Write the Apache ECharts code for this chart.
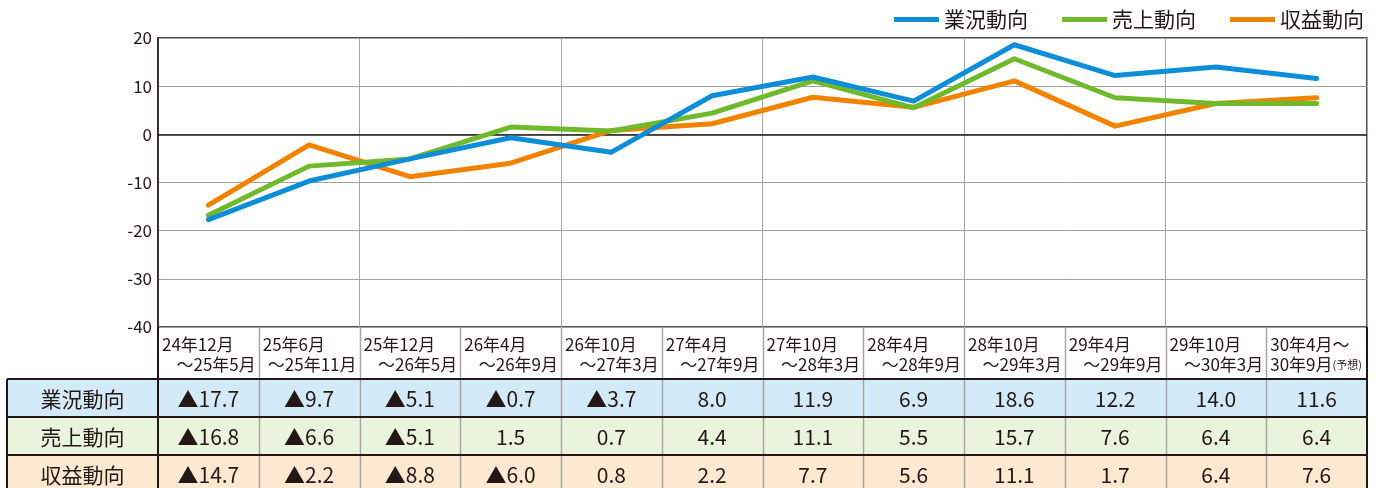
<!DOCTYPE html>
<html>
<head>
<meta charset="utf-8">
<script src="https://cdn.jsdelivr.net/npm/echarts@6/dist/echarts.min.js"></script>
<style>
* { margin: 0; padding: 0; }
body { background: #fff; }
#chart { width: 1381px; height: 488px; }
</style>
</head>
<body>
<div id="chart"></div>
<script>
// 期間（上段・下段）
const periodTop = ["24年12月", "25年6月", "25年12月", "26年4月", "26年10月", "27年4月", "27年10月", "28年4月", "28年10月", "29年4月", "29年10月", "30年4月～"];
const periodBottom = ["～25年5月", "～25年11月", "～26年5月", "～26年9月", "～27年3月", "～27年9月", "～28年3月", "～28年9月", "～29年3月", "～29年9月", "～30年3月", "30年9月(予想)"];
const categories = periodTop.map((t, i) => t + periodBottom[i]);

const seriesNames = ["業況動向", "売上動向", "収益動向"];
const gyoukyou = [-17.7, -9.7, -5.1, -0.7, -3.7, 8.0, 11.9, 6.9, 18.6, 12.2, 14.0, 11.6];
const uriage = [-16.8, -6.6, -5.1, 1.5, 0.7, 4.4, 11.1, 5.5, 15.7, 7.6, 6.4, 6.4];
const shueki = [-14.7, -2.2, -8.8, -6.0, 0.8, 2.2, 7.7, 5.6, 11.1, 1.7, 6.4, 7.6];

const yTicks = [-40, -30, -20, -10, 0, 10, 20];

const lineColors = ["#0e8ed6", "#6fba2c", "#f08300"];
const rowColors = ["#d3ebf8", "#eaf3dc", "#fde9d1"];
const ink = "#231815";
const fontFamily = '"Noto Sans CJK JP", "Noto Sans", sans-serif';

const chart = echarts.init(document.getElementById("chart"));

function fmt (v) {
  return v < 0 ? "▲" + Math.abs(v).toFixed(1) : v.toFixed(1);
}

const seriesData = [gyoukyou, uriage, shueki];

chart.setOption({
  animation: false,
  textStyle: { fontFamily: fontFamily },
  legend: {
    top: 4,
    right: 12,
    icon: "rect",
    itemWidth: 45,
    itemHeight: 5,
    itemGap: 34,
    textStyle: { fontSize: 21, color: ink, fontFamily: fontFamily },
    data: seriesNames
  },
  grid: {
    left: 158,
    right: 14,
    top: 38,
    bottom: 161,
    show: true,
    borderColor: ink,
    borderWidth: 1.5
  },
  xAxis: {
    type: "category",
    data: categories,
    boundaryGap: true,
    axisLabel: { show: false },
    axisTick: { show: false },
    axisLine: { show: false },
    splitLine: { show: true, lineStyle: { color: "#a6a6a6", width: 1 } }
  },
  yAxis: {
    type: "value",
    min: yTicks[0],
    max: yTicks[yTicks.length - 1],
    interval: 10,
    axisLine: { show: true, lineStyle: { color: ink, width: 1.5 } },
    axisTick: { show: false },
    axisLabel: { fontSize: 17, color: ink, margin: 6, fontFamily: fontFamily },
    splitLine: { show: true, lineStyle: { color: "#a0a0a0", width: 1 } }
  },
  series: seriesNames.map((name, i) => ({
    name: name,
    type: "line",
    data: seriesData[i],
    symbol: "none",
    color: lineColors[i],
    lineStyle: { width: 5, color: lineColors[i], cap: "round", join: "round" },
    z: 3 + (2 - i),
    markLine: i === 0 ? {
      silent: true,
      symbol: "none",
      label: { show: false },
      lineStyle: { color: ink, width: 1.5, type: "solid" },
      data: [{ yAxis: 0 }],
      z: 1
    } : undefined
  }))
});

// 下の数表
function buildTable () {
  const els = [];
  const top = chart.convertToPixel({ yAxisIndex: 0 }, yTicks[0]);
  const centers = categories.map(c => chart.convertToPixel({ xAxisIndex: 0 }, c));
  const w = centers[1] - centers[0];
  const gridLeft = centers[0] - w / 2;
  const gridRight = centers[centers.length - 1] + w / 2;
  const headH = 52;
  const rowH = 38;
  const labelLeft = 7;
  const bottom = 488;

  // 行の背景
  seriesNames.forEach((name, r) => {
    const y = top + headH + r * rowH;
    els.push({
      type: "rect",
      shape: { x: labelLeft, y: y, width: gridRight - labelLeft, height: rowH },
      style: { fill: rowColors[r] },
      z: 1
    });
  });

  // 縦線（列区切り）
  centers.forEach((cx, i) => {
    if (i === 0) return;
    const x = Math.round(cx - w / 2) + 0.5;
    els.push({
      type: "line",
      shape: { x1: x, y1: top, x2: x, y2: bottom },
      style: { stroke: "#a6a6a6", lineWidth: 1.5 },
      z: 2
    });
  });
  [labelLeft, gridLeft, gridRight].forEach(x => {
    els.push({
      type: "line",
      shape: { x1: x, y1: x === labelLeft ? top + headH : top, x2: x, y2: bottom },
      style: { stroke: ink, lineWidth: 2 },
      z: 3
    });
  });

  // 横線
  for (let r = 0; r <= seriesNames.length; r++) {
    const y = top + headH + r * rowH;
    els.push({
      type: "line",
      shape: { x1: labelLeft, y1: y, x2: gridRight, y2: y },
      style: { stroke: ink, lineWidth: 2 },
      z: 3
    });
  }

  // 見出し（期間）
  centers.forEach((cx, i) => {
    const l = cx - w / 2;
    const last = i === centers.length - 1;
    els.push({
      type: "text",
      x: l + 4,
      y: top + 18,
      style: { text: periodTop[i], font: "17px " + fontFamily, fill: ink, align: "left", verticalAlign: "middle", textAlign: "left", textVerticalAlign: "middle" },
      z: 4
    });
    if (last) {
      const m = periodBottom[i].match(/^(.*?)(\(.*\))$/);
      els.push({
        type: "text",
        x: l + 4,
        y: top + 38,
        style: {
          text: "{a|" + m[1] + "}{b|" + m[2] + "}",
          rich: {
            a: { font: "17px " + fontFamily, fill: ink },
            b: { font: "11px " + fontFamily, fill: ink }
          },
          align: "left", verticalAlign: "middle", textAlign: "left", textVerticalAlign: "middle"
        },
        z: 4
      });
    } else {
      els.push({
        type: "text",
        x: l + w - 3,
        y: top + 38,
        style: { text: periodBottom[i], font: "17px " + fontFamily, fill: ink, align: "right", verticalAlign: "middle", textAlign: "right", textVerticalAlign: "middle" },
        z: 4
      });
    }
  });

  // 行ラベルと値
  seriesNames.forEach((name, r) => {
    const cy = top + headH + r * rowH + rowH / 2 + 1;
    els.push({
      type: "text",
      x: (labelLeft + gridLeft) / 2,
      y: cy,
      style: { text: name, font: "21px " + fontFamily, fill: ink, align: "center", verticalAlign: "middle", textAlign: "center", textVerticalAlign: "middle" },
      z: 4
    });
    seriesData[r].forEach((v, i) => {
      els.push({
        type: "text",
        x: centers[i],
        y: cy,
        style: { text: fmt(v), font: "21px " + fontFamily, fill: ink, align: "center", verticalAlign: "middle", textAlign: "center", textVerticalAlign: "middle" },
        z: 4
      });
    });
  });

  chart.setOption({ graphic: { elements: els } });
}

buildTable();
</script>
</body>
</html>
